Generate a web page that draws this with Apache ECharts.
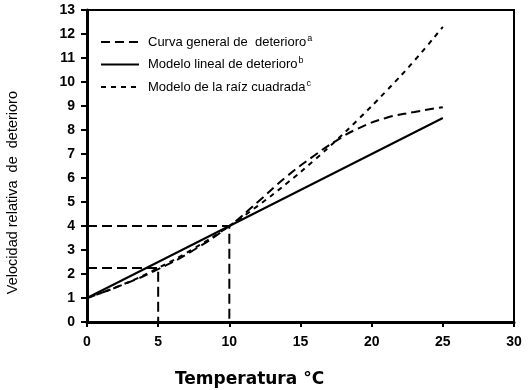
<!DOCTYPE html>
<html><head><meta charset="utf-8">
<script src="https://cdn.jsdelivr.net/npm/echarts@6/dist/echarts.min.js"></script>
<style>html,body{margin:0;padding:0;background:#fff}#c{width:529px;height:390px}</style>
</head><body><div id="c"></div>
<script>
const temps = [0, 2.5, 5, 7.5, 10, 12, 14, 16, 17.5, 19, 21, 23, 25];
const generalCurve = [1, 1.55, 2.2, 3.0, 4.0, 5.0, 6.05, 6.95, 7.55, 8.05, 8.5, 8.75, 8.95];
const linearTemps = [0, 10, 25];
const linearModel = [1, 4, 8.5];
const sqrtModel = [1, 1.56, 2.25, 3.06, 4.0, 4.84, 5.76, 6.76, 7.56, 8.41, 9.61, 10.89, 12.3];
const refLineA = [[0, 4], [10, 4], [10, 0]];
const refLineB = [[0, 2.25], [5, 2.25], [5, 0]];
const seriesNames = ['Curva general de  deterioro', 'Modelo lineal de deterioro', 'Modelo de la raíz cuadrada'];
const supers = ['a', 'b', 'c'];
const xTicks = [0, 5, 10, 15, 20, 25, 30];
const yTicks = [0,1,2,3,4,5,6,7,8,9,10,11,12,13];

const pair = (xs, ys) => xs.map((x, i) => [x, ys[i]]);
const chart = echarts.init(document.getElementById('c'));
const bold = {fontFamily: 'Liberation Sans, Arial', fontWeight: 'bold', fontSize: 14, color: '#000'};
chart.setOption({
  animation: false,
  grid: {left: 87, right: 15, top: 10, bottom: 68, show: true, borderColor: '#000', borderWidth: 2},
  title: [
    {text: 'Temperatura °C', left: 170, top: 366, textStyle: {fontFamily: 'DejaVu Sans', fontWeight: 'bold', fontSize: 17, color: '#000'}},
  ],
  graphic: [{type: 'text', left: 5, top: 91, rotation: Math.PI/2, style: {text: 'Velocidad relativa  de  deterioro', font: '14.5px Liberation Sans, Arial', fill: '#000'}}],
  legend: {
    orient: 'vertical', left: 95, top: 29, itemWidth: 38, itemHeight: 10, itemGap: 8,
    data: seriesNames,
    itemStyle: {opacity: 0},
    formatter: n => n + '{s|' + supers[seriesNames.indexOf(n)] + '}',
    textStyle: {fontFamily: 'Liberation Sans, Arial', fontSize: 13, color: '#000', padding: [0,0,0,4],
      rich: {s: {fontSize: 9, verticalAlign: 'top', padding: [0,0,7,1], fontFamily: 'Liberation Sans, Arial'}}}
  },
  xAxis: {
    type: 'value', min: 0, max: 30, interval: 5,
    axisLine: {lineStyle: {color: '#000', width: 3}},
    axisTick: {length: 5, lineStyle: {color: '#000', width: 2}},
    splitLine: {show: false},
    axisLabel: Object.assign({margin: 13, formatter: v => xTicks.includes(v) ? String(v) : ''}, bold)
  },
  yAxis: {
    type: 'value', min: 0, max: 13, interval: 1,
    axisLine: {show: true, lineStyle: {color: '#000', width: 3}},
    axisTick: {show: true, length: 6, lineStyle: {color: '#000', width: 2}},
    splitLine: {show: false},
    axisLabel: Object.assign({margin: 12, formatter: v => yTicks.includes(v) ? String(v) : ''}, bold)
  },
  series: [
    {name: seriesNames[0], type: 'line', smooth: true, symbol: 'none', data: pair(temps, generalCurve),
     lineStyle: {color: '#000', width: 2, type: [9, 5]}, itemStyle: {color: '#000'}},
    {name: seriesNames[1], type: 'line', symbol: 'none', data: pair(linearTemps, linearModel),
     lineStyle: {color: '#000', width: 2, type: 'solid'}, itemStyle: {color: '#000'}},
    {name: seriesNames[2], type: 'line', smooth: true, symbol: 'none', data: pair(temps, sqrtModel),
     lineStyle: {color: '#000', width: 2, type: [5, 5]}, itemStyle: {color: '#000'}},
    {name: 'refA', type: 'line', symbol: 'none', data: refLineA, silent: true,
     lineStyle: {color: '#000', width: 2, type: [10, 5]}},
    {name: 'refB', type: 'line', symbol: 'none', data: refLineB, silent: true,
     lineStyle: {color: '#000', width: 2, type: [10, 5]}}
  ]
});
</script></body></html>
